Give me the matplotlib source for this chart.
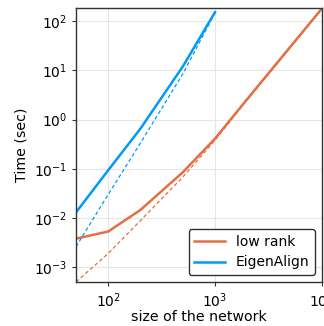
import matplotlib
matplotlib.use("Agg")
import matplotlib.pyplot as plt
from matplotlib.ticker import LogLocator, NullLocator

# network sizes
n_lowrank = [50, 100, 200, 500, 1000, 2000, 5000, 10000]
n_eigen = [50, 100, 200, 500, 1000]

# measured times (sec)
t_lowrank = [3.8e-3, 5.3e-3, 0.0145, 0.085, 0.41, 2.6, 29, 180]
t_eigen = [0.013, 0.093, 0.65, 12, 152]

# fitted curves (dashed)
fit_lowrank = [5.0e-4, 1.9e-3, 8.8e-3, 0.068, 0.38, 2.5, 28, 180]
fit_eigen = [2.6e-3, 0.030, 0.33, 8.5, 148]

c_low = "#e26f46"
c_eig = "#009afa"

fig = plt.figure(figsize=(3.24, 3.26), dpi=100)
ax = fig.add_axes([0.2346, 0.135, 0.759, 0.840])

ax.plot(n_lowrank, t_lowrank, color=c_low, lw=1.8, label="low rank")
ax.plot(n_eigen, t_eigen, color=c_eig, lw=1.8, label="EigenAlign")
ax.plot(n_lowrank, fit_lowrank, color=c_low, lw=0.9, ls=(0, (3, 2)))
ax.plot(n_eigen, fit_eigen, color=c_eig, lw=0.9, ls=(0, (3, 2)))

ax.set_xscale("log")
ax.set_yscale("log")
ax.set_xlim(50, 10000)
ax.set_ylim(5e-4, 183)
ax.xaxis.set_major_locator(LogLocator(base=10))
ax.yaxis.set_major_locator(LogLocator(base=10))
ax.xaxis.set_minor_locator(NullLocator())
ax.yaxis.set_minor_locator(NullLocator())

ax.grid(True, color="#e6e6e6", lw=0.8)
ax.set_axisbelow(True)
for s in ax.spines.values():
    s.set_color("#333333")
    s.set_linewidth(1.0)
ax.tick_params(labelsize=10, length=3, color="#333333")

ax.set_xlabel("size of the network", fontsize=10.2, labelpad=0.5)
ax.set_ylabel("Time (sec)", fontsize=10.2)

leg = ax.legend(loc="lower right", fontsize=10, fancybox=True, framealpha=1,
                edgecolor="#333333", borderaxespad=0.5, handlelength=2.2)

fig.savefig("out.png", dpi=100)
